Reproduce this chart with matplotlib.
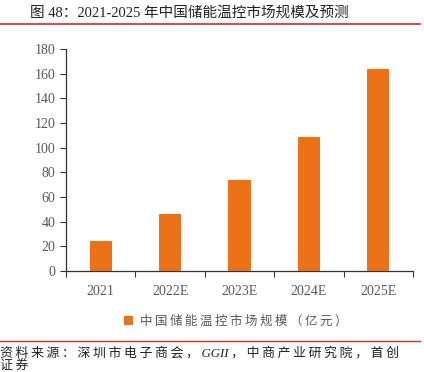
import matplotlib
matplotlib.use("Agg")
import matplotlib.pyplot as plt
from matplotlib.lines import Line2D

plt.rcParams['font.family'] = ['Liberation Serif', 'Noto Sans CJK SC', 'DejaVu Sans']

years = ['2021', '2022E', '2023E', '2024E', '2025E']
market_size = [24, 46, 74, 109, 164]
yticks = list(range(0, 181, 20))

title = '图 48：2021-2025 年中国储能温控市场规模及预测'
series_name = '中国储能温控市场规模（亿元）'
source_1 = ['资', '料', '来', '源', '：', '深', '圳', '市', '电', '子', '商', '会', '，', 'GGII', '，',
            '中', '商', '产', '业', '研', '究', '院', '，', '首', '创']
source_2 = ['证', '券']

bar_color = '#ED7117'
red = '#D9262B'
grey = '#595959'


def spaced(parts):
    # the report's font has wide tracking, a thin space mimics it
    return '\u2009'.join(parts)


fig = plt.figure(figsize=(4.24, 3.72), dpi=100)
ax = fig.add_axes([66 / 424, 1 - 271 / 372, 347 / 424, 222 / 372])

x = range(len(years))
ax.bar(x, market_size, width=0.32, color=bar_color, label=spaced(list(series_name)), zorder=3)

ax.set_xlim(-0.5, len(years) - 0.5)
ax.set_ylim(0, 180)
ax.set_yticks(yticks)
ax.set_xticks(list(x))
ax.set_xticklabels(years)
ax.set_xticks([i + 0.5 for i in range(-1, len(years))], minor=True)
ax.tick_params(axis='x', which='major', length=0, pad=10, labelsize=10, labelcolor=grey)
ax.tick_params(axis='x', which='minor', length=4, width=0.8, direction='out', color='#333333')
ax.tick_params(axis='y', length=4, width=0.8, direction='out', labelsize=10, labelcolor=grey, color='#333333')

for side in ('top', 'right'):
    ax.spines[side].set_visible(False)
for side in ('left', 'bottom'):
    ax.spines[side].set_color('#333333')
    ax.spines[side].set_linewidth(0.9)

leg = ax.legend(loc='upper center', bbox_to_anchor=(0.49, -0.15), frameon=False,
                handlelength=0.7, handleheight=0.7, handletextpad=0.6,
                prop={'size': 9})
for t in leg.get_texts():
    t.set_color(grey)

fig.text(30 / 424, 1 - 13 / 372, title, fontsize=10.5, va='center', ha='left', color='#222222')
fig.add_artist(Line2D([0, 420 / 424], [1 - 24 / 372] * 2, color=red, lw=1.2))
fig.add_artist(Line2D([0, 420 / 424], [1 - 341 / 372] * 2, color=red, lw=1.0))
fig.text(0, 1 - 353 / 372, spaced(source_1), fontsize=9.3, style='italic', va='center', ha='left', color='#222222')
fig.text(0, 1 - 366 / 372, spaced(source_2), fontsize=9.3, style='italic', va='center', ha='left', color='#222222')

fig.savefig('out.png', dpi=100)
